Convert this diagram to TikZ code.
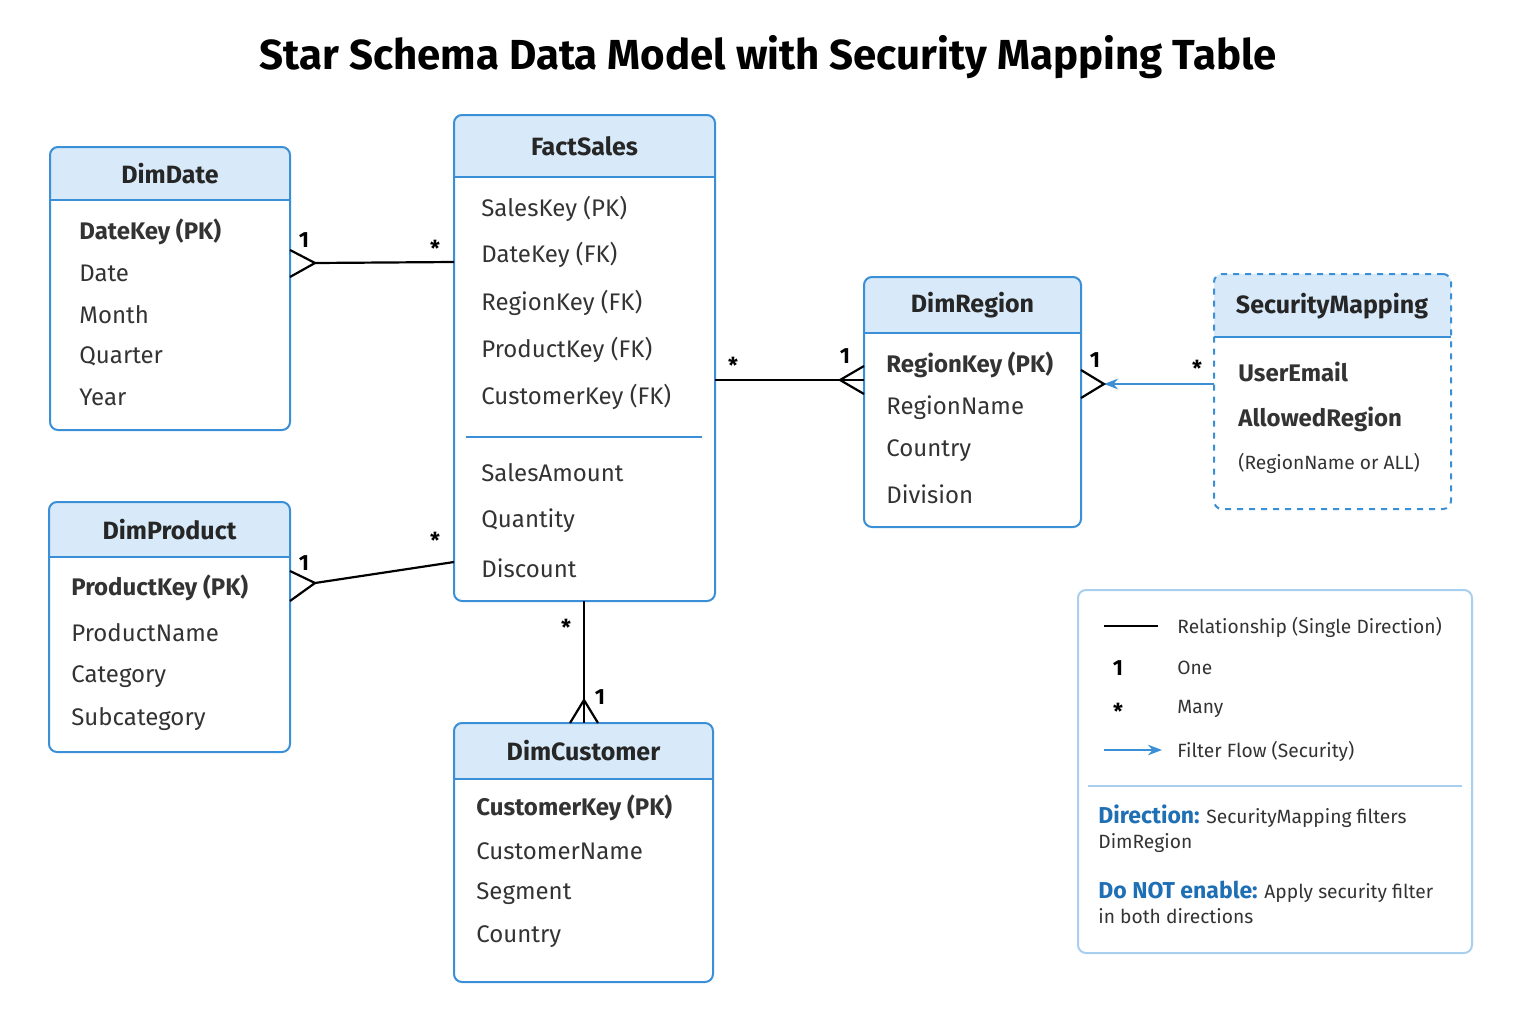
\documentclass[tikz,border=0pt]{standalone}
\usepackage{fontspec}
\setmainfont{Fira Sans}
\usetikzlibrary{fit,arrows.meta}
\definecolor{hdrblue}{HTML}{D8EAF9}
\definecolor{lineblue}{HTML}{3A8FD6}
\definecolor{legblue}{HTML}{A9CFEF}
\definecolor{txtblue}{HTML}{1F6FB5}
\tikzset{
  tbl/.style={draw=lineblue, line width=1pt, rounded corners=4pt, inner sep=0pt},
  ttl/.style={font=\fontsize{12.5}{14}\selectfont\bfseries, text=black!85},
  fld/.style={anchor=west, inner sep=0pt, font=\fontsize{12}{14}\selectfont, text=black!80},
  key/.style={fld, font=\fontsize{12}{14}\selectfont\bfseries},
  lbl/.style={font=\fontsize{11}{12}\selectfont\bfseries},
  rel/.style={line width=1.1pt, black},
  leg/.style={anchor=west, inner sep=0pt, font=\fontsize{9.6}{11.5}\selectfont, text=black!80}
}
% table: name, x1, y1, x2, y2, header bottom, title
\newcommand{\erbox}[7]{%
  \fill[hdrblue] (#2,#6) {[rounded corners=4pt] -- (#2,#3) -- (#4,#3)} -- (#4,#6) -- cycle;
  \draw[lineblue, line width=1pt] (#2,#6) -- (#4,#6);
  \node[tbl, fit={(#2,#3)(#4,#5)}] (#1) {};
  \node[ttl] (#1-t) at ({(#2+#4)/2},{(#3+#6)/2}) {#7};
}
\begin{document}
\begin{tikzpicture}[x=0.5pt,y=-0.5pt]
\useasboundingbox (0,0) rectangle (1521,1023);
\node[font=\fontsize{21}{24}\selectfont\bfseries] (title) at (768,57) {Star Schema Data Model with Security Mapping Table};

\erbox{date}{50}{147}{290}{430}{200}{DimDate}
\node[key] at (79,232) {DateKey (PK)};
\node[fld] at (79,273) {Date};
\node[fld] at (79,315) {Month};
\node[fld] at (79,356) {Quarter};
\node[fld] at (79,397) {Year};

\erbox{fact}{454}{115}{715}{601}{177}{FactSales}
\foreach \t/\y in {SalesKey (PK)/209, DateKey (FK)/255, RegionKey (FK)/303, ProductKey (FK)/350, CustomerKey (FK)/397, SalesAmount/473, Quantity/521, Discount/568}
  \node[fld] at (481,\y) {\t};
\draw[lineblue, line width=1pt] (466,437) -- (702,437);

\erbox{prod}{49}{502}{290}{752}{557}{DimProduct}
\node[key] at (71,588) {ProductKey (PK)};
\node[fld] at (71,633) {ProductName};
\node[fld] at (71,677) {Category};
\node[fld] at (71,719) {Subcategory};

\erbox{cust}{454}{723}{713}{982}{779}{DimCustomer}
\node[key] at (476,808) {CustomerKey (PK)};
\node[fld] at (476,851) {CustomerName};
\node[fld] at (476,894) {Segment};
\node[fld] at (476,937) {Country};

\erbox{region}{864}{277}{1081}{527}{333}{DimRegion}
\node[key] at (886,365) {RegionKey (PK)};
\node[fld] at (886,408) {RegionName};
\node[fld] at (886,451) {Country};
\node[fld] at (886,494) {Division};

\fill[hdrblue] (1214,337) {[rounded corners=4pt] -- (1214,274) -- (1451,274)} -- (1451,337) -- cycle;
\draw[lineblue, line width=1pt] (1214,337) -- (1451,337);
\node[tbl, dashed, fit={(1214,274)(1451,509)}] (secmap) {};
\node[ttl] (secmap-t) at (1332,306) {SecurityMapping};
\node[key] at (1238,372) {UserEmail};
\node[key] at (1238,419) {AllowedRegion};
\node[fld, font=\fontsize{9.6}{12}\selectfont] at (1238,463) {(RegionName or ALL)};

% relationships
\coordinate (d1) at (290,263); \coordinate (d2) at (454,262);
\draw[rel] (315,263) -- (d2);
\draw[rel] (290,250) -- (315,263) -- (290,277);
\node[lbl] at (304,240) {1}; \node[lbl] at (435,248) {*};

\coordinate (p1) at (315,583); \coordinate (p2) at (454,562);
\draw[rel] (p1) -- (p2);
\draw[rel] (290,571) -- (p1) -- (290,601);
\node[lbl] at (304,563) {1}; \node[lbl] at (435,540) {*};

\coordinate (c1) at (584,601); \coordinate (c2) at (584,700);
\draw[rel] (c1) -- (584,723);
\draw[rel] (570,723) -- (c2) -- (598,723);
\node[lbl] at (566,627) {*}; \node[lbl] at (600,697) {1};

\coordinate (r1) at (715,380); \coordinate (r2) at (840,380);
\draw[rel] (r1) -- (864,380);
\draw[rel] (864,366) -- (r2) -- (864,394);
\node[lbl] at (733,365) {*}; \node[lbl] at (845,356) {1};

\coordinate (s1) at (1214,384); \coordinate (s2) at (1104,384);
\draw[lineblue, line width=1.3pt, -{Stealth[length=7pt]}] (s1) -- (s2);
\draw[rel] (1081,370) -- (s2) -- (1081,398);
\node[lbl] at (1095,360) {1}; \node[lbl] at (1197,368) {*};

% legend
\node[draw=legblue, line width=1pt, rounded corners=4pt, inner sep=0pt, fit={(1078,590)(1472,953)}] (legend) {};
\draw[rel] (1104,626) -- (1158,626);
\node[leg] at (1177,627) {Relationship (Single Direction)};
\node[lbl] at (1118,668) {1}; \node[leg] at (1177,668) {One};
\node[lbl] at (1118,711) {*}; \node[leg] at (1177,709) {Many};
\draw[lineblue, line width=1.3pt, -{Stealth[length=7pt]}] (1104,750) -- (1162,750);
\node[leg] at (1177,751) {Filter Flow (Security)};
\draw[legblue, line width=1pt] (1088,786) -- (1462,786);
\node[leg, anchor=north west, align=left] at (1098,804) {\textcolor{txtblue}{\fontsize{11.5}{13}\selectfont\bfseries Direction:} SecurityMapping filters\\[1pt]DimRegion};
\node[leg, anchor=north west, align=left] at (1098,881) {\textcolor{txtblue}{\fontsize{11.5}{13}\selectfont\bfseries Do NOT enable:} Apply security filter\\[1pt]in both directions};
\end{tikzpicture}
\end{document}
